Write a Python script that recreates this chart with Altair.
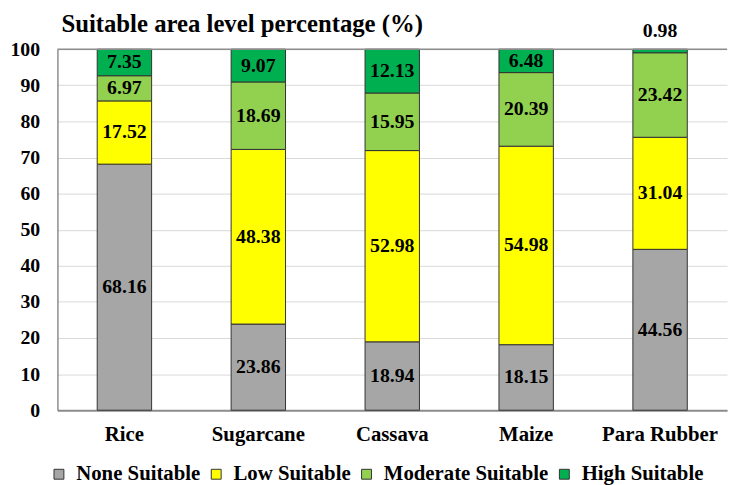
import altair as alt
import pandas as pd

crops = ["Rice", "Sugarcane", "Cassava", "Maize", "Para Rubber"]
levels = ["None Suitable", "Low Suitable", "Moderate Suitable", "High Suitable"]
none_vals = [68.16, 23.86, 18.94, 18.15, 44.56]
low_vals = [17.52, 48.38, 52.98, 54.98, 31.04]
mod_vals = [6.97, 18.69, 15.95, 20.39, 23.42]
high_vals = [7.35, 9.07, 12.13, 6.48, 0.98]
colors = ["#a6a6a6", "#ffff00", "#92d050", "#00b050"]
y_ticks = [0, 10, 20, 30, 40, 50, 60, 70, 80, 90, 100]

rows = []
for lvl_i, (lvl, vals) in enumerate(zip(levels, [none_vals, low_vals, mod_vals, high_vals])):
    for c, v in zip(crops, vals):
        rows.append({"crop": c, "level": lvl, "order": lvl_i, "value": v})
df = pd.DataFrame(rows)

FONT = "'Times New Roman', 'Liberation Serif', serif"

yaxis = alt.Axis(title=None, values=y_ticks, ticks=False, labelOverlap=False,
                 labelPadding=18, labelFont=FONT, labelFontSize=20,
                 labelFontWeight="bold", labelColor="black",
                 domainColor="#555555", domainWidth=1,
                 grid=True, gridColor="#d9d9d9", gridWidth=1)
yscale = alt.Scale(domain=[0, 100])

xaxis = alt.Axis(title=None, labelAngle=0, ticks=False, labelPadding=14,
                 labelFont=FONT, labelFontSize=21, labelFontWeight="bold",
                 labelColor="black", domainColor="#8c8c8c", domainWidth=2,
                 grid=False)
xscale = alt.Scale(paddingInner=0, paddingOuter=0)

base = alt.Chart(df).transform_stack(
    stack="value", groupby=["crop"], as_=["y0", "y1"],
    sort=[alt.SortField("order", order="ascending")]
).transform_calculate(
    mid="(datum.y0 + datum.y1) / 2",
    label="format(datum.value, '.2f')"
)

bars = base.mark_bar(size=55, stroke="#333333", strokeWidth=1).encode(
    x=alt.X("crop:N", sort=crops, scale=xscale, axis=xaxis),
    y=alt.Y("y0:Q", scale=yscale, axis=yaxis),
    y2="y1:Q",
    color=alt.Color("level:N", sort=levels,
                    scale=alt.Scale(domain=levels, range=colors),
                    legend=alt.Legend(title=None, orient="none", legendX=-9, legendY=419,
                                      direction="horizontal", columns=4,
                                      symbolType="square", symbolSize=100,
                                      symbolStrokeColor="#333333", symbolStrokeWidth=1,
                                      labelFont=FONT, labelFontSize=21, labelLimit=400,
                                      labelFontWeight="bold", labelColor="black",
                                      labelOffset=7, columnPadding=5)),
    order=alt.Order("order:Q"),
)

labels_in = base.transform_filter("datum.value >= 2").mark_text(
    font=FONT, fontSize=20, fontWeight="bold", color="black", baseline="middle"
).encode(x=alt.X("crop:N", sort=crops, scale=xscale, axis=xaxis),
         y=alt.Y("mid:Q", scale=yscale, axis=yaxis), text="label:N")

labels_out = base.transform_filter("datum.value < 2").mark_text(
    font=FONT, fontSize=20, fontWeight="bold", color="black", baseline="bottom", dy=-8
).encode(x=alt.X("crop:N", sort=crops, scale=xscale, axis=xaxis),
         y=alt.Y("y1:Q", scale=yscale, axis=yaxis), text="label:N")

top_rule = alt.Chart(pd.DataFrame({"v": [100]})).mark_rule(
    color="#8c8c8c", strokeWidth=1.5
).encode(y=alt.Y("v:Q", scale=yscale, axis=yaxis))

chart = alt.layer(bars, top_rule, labels_in, labels_out).properties(
    width=677, height=365,
    autosize=alt.AutoSizeParams(type="none"),
    padding={"left": 50, "top": 39, "right": 4, "bottom": 76},
    title=alt.TitleParams("Suitable area level percentage (%)", anchor="start",
                          frame="group",
                          font=FONT, fontSize=25, fontWeight="bold", color="black",
                          dx=4, offset=-16),
).configure_view(stroke=None)

chart.save("out.html", embed_options={"renderer": "svg", "actions": False})
